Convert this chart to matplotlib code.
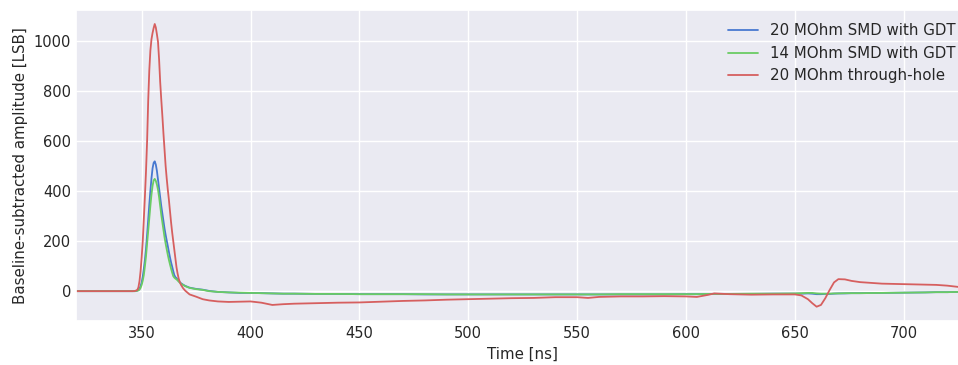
# -*- coding: utf-8 -*-
"""
Baseline-subtracted pulse shapes for three resistor configurations.
"""
import matplotlib
matplotlib.use("Agg")
import matplotlib.pyplot as plt
import seaborn as sns

# sample times [ns]
time_ns = [320, 340, 346, 347,
           348, 348.5, 349, 349.5, 350, 350.5, 351, 351.5, 352, 352.5,
           353, 353.5, 354, 354.5, 355, 355.5, 356, 356.5, 357, 357.5,
           358, 358.5, 359, 359.5, 360, 360.5, 361, 361.5, 362, 362.5,
           363, 363.5, 364, 364.5, 365, 365.5, 366, 366.5, 367, 367.5, 368,
           369, 370, 372, 375, 378, 381, 385, 390, 395, 400,
           405, 410, 415, 420, 430, 440, 450, 460, 470, 480,
           490, 500, 510, 520, 530, 540, 550, 555, 560, 570,
           580, 590, 600, 605, 610, 613, 620, 630, 640, 650,
           653, 656, 658, 660, 662, 664, 666, 668, 670, 673,
           676, 680, 690, 700, 710, 715, 720, 725, 730]

smd_20 = [0, 0, 0, 0,
          2, 5, 10, 20, 35, 58, 90, 125, 170, 225,
          285, 345, 400, 450, 490, 512, 518, 505, 480, 445,
          410, 375, 340, 310, 280, 250, 225, 202, 180, 157,
          135, 115, 98, 80, 64, 56, 52, 46, 41, 36, 32,
          26, 21, 14, 9, 6, 1, -3, -5, -7, -7,
          -8, -9, -10, -10, -11, -11, -12, -12, -12, -13,
          -13, -13, -13, -13, -13, -13, -13, -13, -13, -13,
          -13, -13, -12, -12, -12, -11, -11, -11, -10, -10,
          -10, -9, -10, -12, -12, -11, -11, -10, -9, -9,
          -8, -8, -7, -6, -5, -4, -4, -3, -3]

smd_14 = [0, 0, 0, 0,
          2, 3, 6, 13, 25, 42, 65, 100, 140, 190,
          240, 290, 340, 385, 420, 442, 448, 440, 425, 405,
          375, 340, 305, 275, 245, 215, 190, 167, 145, 125,
          107, 90, 74, 60, 54, 50, 47, 43, 38, 34, 30,
          25, 20, 13, 8, 5, 0, -3, -5, -6, -7,
          -8, -9, -10, -10, -11, -11, -12, -12, -12, -12,
          -13, -13, -13, -13, -13, -13, -13, -13, -13, -12,
          -12, -12, -12, -12, -11, -11, -11, -10, -10, -9,
          -8, -7, -7, -9, -10, -10, -10, -9, -9, -8,
          -8, -8, -7, -6, -5, -4, -4, -3, -3]

through_hole_20 = [0, 0, 0, 1,
                   5, 15, 40, 80, 135, 200, 290, 380, 480, 600,
                   760, 880, 960, 1005, 1030, 1050, 1066, 1052, 1025, 995,
                   925, 835, 765, 700, 630, 565, 500, 450, 405, 365,
                   320, 275, 235, 200, 165, 130, 95, 70, 50, 37, 26,
                   12, 2, -13, -22, -32, -37, -41, -43, -42, -41,
                   -46, -55, -52, -50, -48, -46, -45, -42, -39, -37,
                   -34, -32, -30, -28, -27, -24, -24, -27, -23, -21,
                   -21, -20, -21, -23, -15, -9, -12, -14, -13, -13,
                   -17, -32, -48, -62, -55, -28, 5, 35, 48, 47,
                   41, 36, 30, 28, 26, 25, 22, 17, 15]

labels = ["20 MOhm SMD with GDT", "14 MOhm SMD with GDT", "20 MOhm through-hole"]


def main():
    sns.set_theme(style="darkgrid", palette="muted")
    colors = sns.color_palette("muted")

    fig, ax = plt.subplots(figsize=(9.58, 3.65), dpi=100)
    # the right edge of the axes runs slightly past the picture (cropped)
    fig.subplots_adjust(left=0.0797, right=1.0115, top=0.973, bottom=0.121)

    series = [smd_20, smd_14, through_hole_20]
    series_colors = [colors[0], colors[2], colors[3]]
    for values, label, color in zip(series, labels, series_colors):
        assert len(values) == len(time_ns)
        ax.plot(time_ns, values, label=label, color=color, linewidth=1.3)

    ax.set_xlim(320, 730)
    ax.tick_params(labelsize=10.5, length=0, pad=3.8)
    ax.set_xlabel("Time [ns]", fontsize=10.8, labelpad=4.2)
    ax.set_ylabel("Baseline-subtracted amplitude [LSB]", fontsize=10.8,
                  labelpad=4.3)
    ax.legend(loc="upper right", frameon=False, fontsize=10.8)

    fig.savefig("out.png", dpi=100)


if __name__ == "__main__":
    main()
